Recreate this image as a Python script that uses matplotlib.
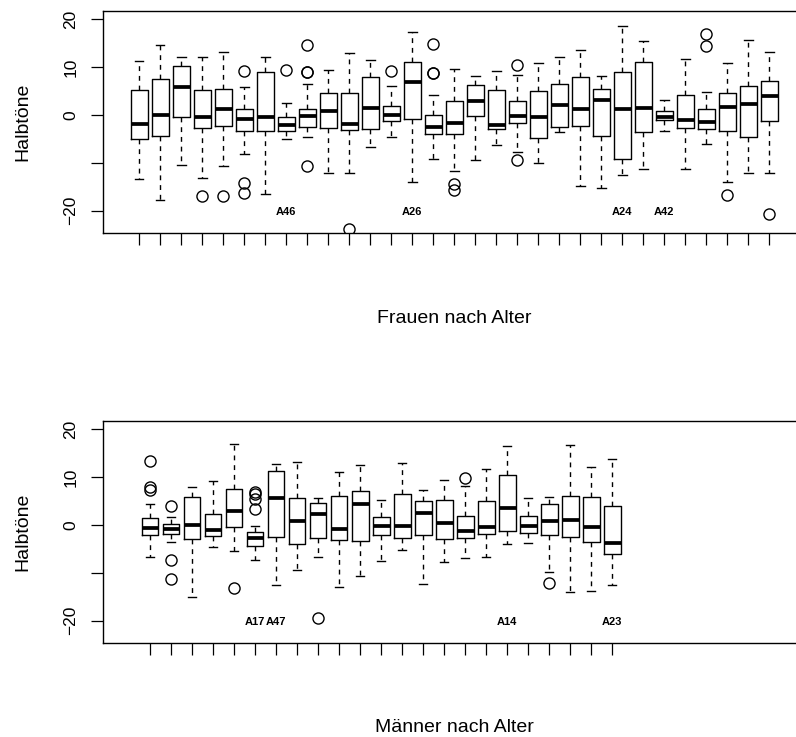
import matplotlib
matplotlib.use("Agg")
import matplotlib.pyplot as plt

plt.rcParams['font.family'] = ['Liberation Sans', 'DejaVu Sans']

# ---------------- data: women (top panel) ----------------
f_whishi = [11.3, 14.6, 12.2, 12.2, 13.1, 5.9, 12.1, 2.5, 6.6, 9.4, 12.9, 11.5, 6.1,
            17.4, 4.3, 9.6, 8.2, 9.2, 8.4, 10.8, 12.2, 13.6, 8.1, 18.6, 15.5, 3.1,
            11.8, 4.8, 10.8, 15.7, 13.1]
f_q3 = [5.2, 7.6, 10.2, 5.2, 5.4, 1.2, 8.9, -0.3, 1.3, 4.7, 4.7, 8.0, 1.9,
        11.0, 0.1, 2.9, 6.2, 5.2, 2.9, 5.1, 6.4, 7.9, 5.4, 9.1, 11.1, 0.9,
        4.2, 1.3, 4.7, 6.0, 7.2]
f_med = [-1.8, 0.0, 5.9, -0.5, 1.3, -0.8, -0.4, -2.1, -0.2, 0.8, -1.9, 1.4, 0.1,
         7.0, -2.4, -1.6, 3.0, -2.1, -0.2, -0.3, 2.2, 1.3, 3.1, 1.2, 1.4, -0.3,
         -1.1, -1.5, 1.6, 2.4, 3.9]
f_q1 = [-4.9, -4.4, -0.4, -2.7, -2.3, -3.3, -3.3, -3.3, -2.5, -2.7, -3.1, -2.9, -1.2,
        -0.8, -4.0, -3.9, -0.1, -2.9, -1.7, -4.7, -2.4, -2.2, -4.3, -9.2, -3.5, -1.0,
        -2.7, -2.9, -3.4, -4.5, -1.2]
f_whislo = [-13.4, -17.8, -10.5, -13.1, -10.6, -8.2, -16.5, -4.9, -4.6, -12.0, -12.2, -6.7, -4.5,
            -14.0, -9.1, -11.6, -9.4, -6.3, -7.8, -10.0, -3.6, -14.9, -15.3, -12.5, -11.2, -3.4,
            -11.3, -6.1, -13.9, -12.0, -12.1]
f_fliers = [[], [], [], [-16.9], [-16.9], [9.3, -14.1, -16.2], [], [9.5],
            [14.7, 9.1, 9.0, -10.7], [], [-23.7], [], [9.2],
            [], [14.8, 8.8, 8.7], [-14.4, -15.6], [], [], [10.5, -9.3], [], [], [], [],
            [], [], [], [], [17.0, 14.5], [-16.7], [], [-20.7]]
f_label_pos = [8, 14, 24, 26]
f_label_txt = ["A46", "A26", "A24", "A42"]

# ---------------- data: men (bottom panel) ----------------
m_whishi = [4.5, 1.6, 7.9, 9.2, 16.9, -0.1, 12.7, 13.2, 5.6, 11.0, 12.6, 5.2,
            13.0, 7.3, 9.4, 8.2, 11.7, 16.5, 5.6, 5.8, 16.8, 12.2, 13.8]
m_q3 = [1.5, 0.3, 5.8, 2.4, 7.5, -1.5, 11.4, 5.6, 4.7, 6.1, 7.2, 1.6,
        6.6, 5.1, 5.2, 1.9, 5.0, 10.4, 2.0, 4.4, 6.1, 5.9, 4.0]
m_med = [-0.6, -0.9, 0.1, -1.0, 3.0, -2.7, 5.6, 0.8, 2.4, -0.9, 4.5, -0.1,
         -0.1, 2.5, 0.4, -1.3, -0.4, 3.6, -0.1, 0.8, 1.0, -0.3, -3.8]
m_q1 = [-2.0, -1.9, -2.9, -2.2, -0.4, -4.4, -2.4, -4.0, -2.6, -3.1, -3.3, -2.1,
        -2.6, -2.0, -3.0, -2.7, -1.9, -1.3, -1.7, -2.1, -2.5, -3.6, -6.0]
m_whislo = [-6.7, -3.6, -15.0, -4.6, -5.4, -7.3, -12.5, -9.3, -6.6, -13.0, -10.6, -7.5,
            -5.2, -12.4, -7.7, -6.8, -6.6, -3.9, -3.7, -9.9, -13.9, -13.7, -12.6]
m_fliers = [[13.4, 7.9, 7.3], [4.0, -7.3, -11.2], [], [], [-13.2], [7.0, 6.6, 5.4, 3.3],
            [], [], [-19.5], [], [], [],
            [], [], [], [9.8], [], [], [], [-12.2], [], [], []]
m_label_pos = [6, 7, 18, 23]
m_label_txt = ["A17", "A47", "A14", "A23"]

y_ticks = [-20, -10, 0, 10, 20]
y_ticklabels = ["\u221220", "", "0", "10", "20"]

W, H = 796, 737
fig = plt.figure(figsize=(W / 100, H / 100), dpi=100)


def px_rect(left, top, right, bottom):
    return [left / W, 1 - bottom / H, (right - left) / W, (bottom - top) / H]


def panel(rect, xlim, whishi, q3, med, q1, whislo, fliers, lab_pos, lab_txt, xlabel, xlabel_y):
    ax = fig.add_axes(rect)
    stats = []
    for i in range(len(med)):
        stats.append(dict(med=med[i], q1=q1[i], q3=q3[i], whislo=whislo[i],
                          whishi=whishi[i], fliers=fliers[i]))
    pos = list(range(1, len(med) + 1))
    ax.bxp(stats, positions=pos, widths=0.8, capwidths=0.4, showfliers=True,
           boxprops=dict(color='black', linewidth=1.0),
           medianprops=dict(color='black', linewidth=2.7, solid_capstyle='butt'),
           whiskerprops=dict(color='black', linewidth=1.0, linestyle=(0, (3.5, 3.5))),
           capprops=dict(color='black', linewidth=1.0),
           flierprops=dict(marker='o', markerfacecolor='none', markeredgecolor='black',
                           markersize=8, markeredgewidth=1.0, linestyle='none'),
           manage_ticks=False)
    ax.set_xlim(*xlim)
    ax.set_ylim(-24.7, 21.75)
    ax.set_xticks(pos)
    ax.set_xticklabels([])
    ax.set_yticks(y_ticks)
    ax.set_yticklabels(y_ticklabels, rotation=90, va='center', fontsize=12.5)
    ax.tick_params(axis='both', direction='out', length=8.6, width=0.9, color='black')
    ax.tick_params(axis='y', pad=9)
    for s in ax.spines.values():
        s.set_linewidth(1.0)
    for p, t in zip(lab_pos, lab_txt):
        ax.text(p, -20.2, t, ha='center', va='center', fontsize=8, fontweight='bold')
    fig.text(23 / W, rect[1] + rect[3] / 2, "Halbtöne", rotation=90, ha='center',
             va='center', fontsize=14)
    fig.text((rect[0] + rect[2] / 2), xlabel_y, xlabel, ha='center', va='baseline', fontsize=14)
    return ax


panel(px_rect(102.7, 11, 806, 233.3), (-0.742, 32.74), f_whishi, f_q3, f_med, f_q1, f_whislo,
      f_fliers, f_label_pos, f_label_txt, "Frauen nach Alter", 1 - 323.3 / H)
panel(px_rect(102.7, 421, 806, 643.3), (-1.25, 32.22), m_whishi, m_q3, m_med, m_q1, m_whislo,
      m_fliers, m_label_pos, m_label_txt, "Männer nach Alter", 1 - 731.7 / H)

fig.savefig("out.png", dpi=100)
